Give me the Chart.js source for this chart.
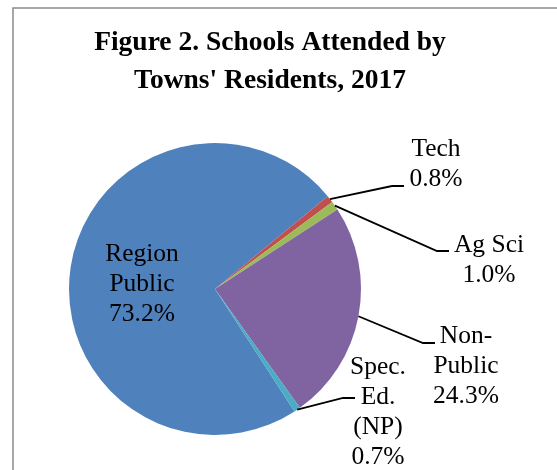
<!DOCTYPE html>
<html>
<head>
<meta charset="utf-8">
<title>Figure 2</title>
<script src="https://cdn.jsdelivr.net/npm/chart.js"></script>
<style>
  html, body { margin: 0; padding: 0; background: #fff; }
  #wrap { width: 557px; height: 470px; }
</style>
</head>
<body>
<div id="wrap"><canvas id="pie" width="557" height="470"></canvas></div>
<script>
// Data
const categories = ['Region Public', 'Tech', 'Ag Sci', 'Non-Public', 'Spec. Ed. (NP)'];
const shares = [73.2, 0.8, 1.0, 24.3, 0.7];
const labelLines = [['Region', 'Public'], ['Tech'], ['Ag Sci'], ['Non-', 'Public'], ['Spec.', 'Ed.', '(NP)']];
const titleLines = ['Figure 2. Schools Attended by', "Towns' Residents, 2017"];
const colors = ['#4F81BD', '#C0504D', '#9BBB59', '#8064A2', '#4BACC6'];

// where each label sits (centre x, first baseline) and its leader elbow
const labelPos = [
  { x: 142, y: 261 },
  { x: 436, y: 156, elbow: [392, 186], end: 404 },
  { x: 489, y: 252, elbow: [437, 251], end: 449 },
  { x: 466, y: 343, elbow: [423, 343], end: 435 },
  { x: 378, y: 374, elbow: [343, 398], end: 355 }
];

const SERIF = '"Liberation Serif", "Times New Roman", serif';

const decor = {
  id: 'decor',
  beforeDraw(chart) {
    const c = chart.ctx;
    c.save();
    // frame
    c.strokeStyle = '#8a8a8a';
    c.lineWidth = 1.5;
    c.strokeRect(13, 8, 600, 500);
    // title
    c.fillStyle = '#000';
    c.textAlign = 'center';
    c.textBaseline = 'alphabetic';
    c.font = 'bold 27.5px ' + SERIF;
    titleLines.forEach((t, i) => c.fillText(t, 270, 50 + i * 38));
    c.restore();
  },
  afterDraw(chart) {
    const c = chart.ctx;
    const arcs = chart.getDatasetMeta(0).data;
    c.save();
    c.fillStyle = '#000';
    c.strokeStyle = '#000';
    c.lineWidth = 1.8;
    c.textAlign = 'center';
    c.textBaseline = 'alphabetic';
    c.font = '25.5px ' + SERIF;
    arcs.forEach((arc, i) => {
      const p = labelPos[i];
      const lines = labelLines[i].concat([shares[i].toFixed(1) + '%']);
      lines.forEach((t, k) => c.fillText(t, p.x, p.y + k * 30));
      if (p.elbow) {
        const { x, y, startAngle, endAngle, outerRadius } = arc.getProps(['x', 'y', 'startAngle', 'endAngle', 'outerRadius'], true);
        const mid = (startAngle + endAngle) / 2;
        c.beginPath();
        c.moveTo(x + Math.cos(mid) * outerRadius, y + Math.sin(mid) * outerRadius);
        c.lineTo(p.elbow[0], p.elbow[1]);
        c.lineTo(p.end, p.elbow[1]);
        c.stroke();
      }
    });
    c.restore();
  }
};

new Chart(document.getElementById('pie'), {
  type: 'pie',
  data: {
    labels: categories,
    datasets: [{
      data: shares,
      backgroundColor: colors,
      borderWidth: 0
    }]
  },
  options: {
    responsive: false,
    animation: false,
    rotation: 147,
    layout: { padding: { left: 69, top: 143, right: 196, bottom: 35 } },
    plugins: {
      legend: { display: false },
      tooltip: { enabled: false },
      title: { display: false }
    }
  },
  plugins: [decor]
});
</script>
</body>
</html>
